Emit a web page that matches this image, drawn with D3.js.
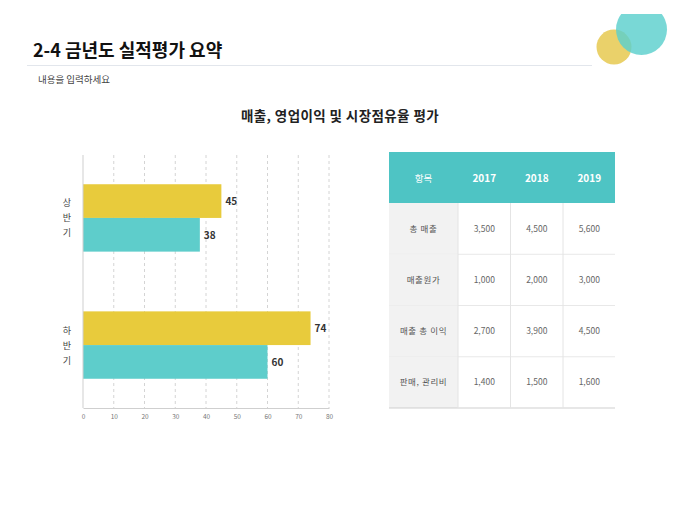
<!DOCTYPE html>
<html>
<head>
    <meta charset="utf-8">
    <script src="https://cdnjs.cloudflare.com/ajax/libs/d3/7.8.5/d3.min.js"></script>
    <style>
        body { margin: 0; background: #fff; font-family: "Noto Sans CJK KR", "Noto Sans", sans-serif; }
    </style>
</head>
<body>
    <div id="chart"></div>
    <script>
        // bar chart data
        const halves = ["상반기", "하반기"]
        const seriesA = [45, 74]   // yellow
        const seriesB = [38, 60]   // teal
        const xTicks = [0, 10, 20, 30, 40, 50, 60, 70, 80]

        // table data
        const tableHead = ["항목", "2017", "2018", "2019"]
        const rowNames = ["총 매출", "매출원가", "매출 총 이익", "판매, 관리비"]
        const val2017 = [3500, 1000, 2700, 1400]
        const val2018 = [4500, 2000, 3900, 1500]
        const val2019 = [5600, 3000, 4500, 1600]

        const W = 680, H = 510
        const yellow = "#e8cb3c", teal = "#5ecdcb"

        let svg = d3.select("#chart").append("svg")
            .attr("width", W).attr("height", H)
            .style("font-family", '"Noto Sans CJK KR", sans-serif')

        // decorative circles, clipped at the top edge of the slide
        svg.append("clipPath").attr("id", "topclip")
            .append("rect").attr("x", 0).attr("y", 14).attr("width", W).attr("height", H)
        let deco = svg.append("g").attr("clip-path", "url(#topclip)")
        deco.append("circle").attr("cx", 614).attr("cy", 47).attr("r", 17.5).attr("fill", "#ead16a")
        deco.append("circle").attr("cx", 641.5).attr("cy", 29.5).attr("r", 25.5).attr("fill", "#5ccfcd").attr("opacity", 0.82)

        // header
        svg.append("text").attr("x", 33).attr("y", 57).attr("font-size", 18).attr("font-weight", "bold")
            .attr("fill", "#111").text("2-4 금년도 실적평가 요약")
        svg.append("line").attr("x1", 27).attr("x2", 592).attr("y1", 65.5).attr("y2", 65.5)
            .attr("stroke", "#e2e6ec").attr("stroke-width", 1)
        svg.append("text").attr("x", 38).attr("y", 83).attr("font-size", 9.5).attr("fill", "#444")
            .text("내용을 입력하세요")
        svg.append("text").attr("x", 340).attr("y", 121).attr("font-size", 13.5).attr("font-weight", "bold")
            .attr("letter-spacing", 0.4).attr("text-anchor", "middle").attr("fill", "#222").text("매출, 영업이익 및 시장점유율 평가")

        // bar chart
        let x = d3.scaleLinear().domain([0, 80]).range([83, 329])
        let y = d3.scaleBand().domain(halves).range([155, 408]).paddingInner(0.47).paddingOuter(0.23)

        let g = svg.append("g")

        xTicks.slice(1).forEach(function (t) {
            g.append("line").attr("x1", x(t)).attr("x2", x(t)).attr("y1", 155).attr("y2", 408)
                .attr("stroke", "#d4d4d4").attr("stroke-dasharray", "3,3")
        })

        halves.forEach(function (name, i) {
            let y0 = y(name)
            let bh = y.bandwidth() / 2
            g.append("rect").attr("x", x(0)).attr("y", y0).attr("width", x(seriesA[i]) - x(0)).attr("height", bh).attr("fill", yellow)
            g.append("rect").attr("x", x(0)).attr("y", y0 + bh).attr("width", x(seriesB[i]) - x(0)).attr("height", bh).attr("fill", teal)
            g.append("text").attr("x", x(seriesA[i]) + 4).attr("y", y0 + bh / 2 + 4)
                .attr("font-size", 10).attr("font-weight", "bold").attr("fill", "#333").text(seriesA[i])
            g.append("text").attr("x", x(seriesB[i]) + 4).attr("y", y0 + bh * 1.5 + 4)
                .attr("font-size", 10).attr("font-weight", "bold").attr("fill", "#333").text(seriesB[i])
            // vertical category label
            let chars = name.split("")
            chars.forEach(function (c, k) {
                g.append("text").attr("x", 67).attr("y", y0 + bh + (k - 1) * 15 + 3.5)
                    .attr("text-anchor", "middle").attr("font-size", 9).attr("fill", "#444").text(c)
            })
        })

        let xAxis = g.append("g").attr("transform", "translate(0,408)")
            .call(d3.axisBottom(x).tickValues(xTicks).tickSize(0).tickPadding(6))
        xAxis.select(".domain").attr("stroke", "#cfcfcf")
        xAxis.selectAll("text").attr("font-size", 6.5).attr("fill", "#777")
            .style("font-family", '"Noto Sans CJK KR", sans-serif')
        g.append("line").attr("x1", x(0)).attr("x2", x(0)).attr("y1", 155).attr("y2", 408).attr("stroke", "#cfcfcf")

        // table
        let colX = d3.scaleOrdinal().domain(tableHead).range([389, 458, 510.5, 563])
        let colW = d3.scaleOrdinal().domain(tableHead).range([69, 52.5, 52.5, 52.5])
        let rowY = d3.scaleBand().domain(rowNames).range([203, 408])
        let fmt = d3.format(",")
        let cols = [val2017, val2018, val2019]

        let t = svg.append("g")
        t.append("rect").attr("x", 389).attr("y", 152).attr("width", 226).attr("height", 51).attr("fill", "#4ec4c4")
        tableHead.forEach(function (h, j) {
            t.append("text").attr("x", colX(h) + colW(h) / 2).attr("y", 182)
                .attr("text-anchor", "middle").attr("font-size", j === 0 ? 9.5 : 10)
                .attr("font-weight", j === 0 ? "normal" : "bold").attr("fill", "#fff").text(h)
        })
        rowNames.forEach(function (r, i) {
            let ry = rowY(r)
            t.append("rect").attr("x", 389).attr("y", ry).attr("width", 69).attr("height", rowY.bandwidth()).attr("fill", "#f2f2f2")
            t.append("text").attr("x", 389 + 34.5).attr("y", ry + rowY.bandwidth() / 2 + 3)
                .attr("text-anchor", "middle").attr("font-size", 8.5).attr("letter-spacing", 0.6).attr("fill", "#555").text(r)
            cols.forEach(function (c, j) {
                let h = tableHead[j + 1]
                t.append("text").attr("x", colX(h) + colW(h) / 2).attr("y", ry + rowY.bandwidth() / 2 + 3)
                    .attr("text-anchor", "middle").attr("font-size", 8.5).attr("fill", "#666").text(fmt(c[i]))
            })
            t.append("line").attr("x1", 389).attr("x2", 615).attr("y1", ry + rowY.bandwidth()).attr("y2", ry + rowY.bandwidth())
                .attr("stroke", i === rowNames.length - 1 ? "#cfcfcf" : "#e8e8e8")
        })
        tableHead.slice(1).forEach(function (h) {
            t.append("line").attr("x1", colX(h)).attr("x2", colX(h)).attr("y1", 203).attr("y2", 408).attr("stroke", "#e4e4e4")
        })
    </script>
</body>
</html>
